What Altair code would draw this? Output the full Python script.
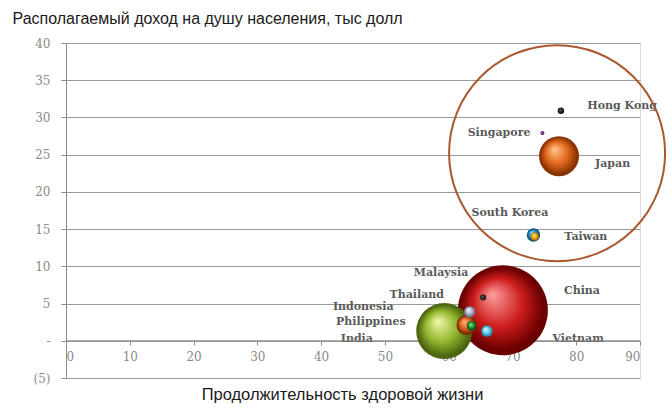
import math
import altair as alt
import pandas as pd

# ---- data ----
countries = ["China", "India", "Indonesia", "Thailand", "Philippines", "Vietnam",
             "Malaysia", "Japan", "South Korea", "Taiwan", "Hong Kong", "Singapore"]
healthy_life = [68.5, 59.3, 62.8, 63.3, 63.6, 66.0, 65.4, 77.3, 73.3, 73.5, 77.6, 74.7]
income_k = [4.1, 1.3, 2.1, 3.9, 2.0, 1.3, 5.8, 24.8, 14.2, 14.0, 30.9, 27.9]
bubble_value = [1350, 523, 67, 22, 15, 22, 6, 267, 30, 12, 7, 2.7]

label_names = ["Hong Kong", "Singapore", "Japan", "South Korea", "Taiwan", "Malaysia",
               "Thailand", "China", "Indonesia", "Philippines", "India", "Vietnam"]
label_x = [87.2, 67.9, 85.7, 69.6, 81.5, 58.8, 55.0, 80.9, 46.6, 47.8, 45.6, 80.3]
label_y = [31.6, 27.9, 23.7, 17.2, 13.9, 9.1, 6.2, 6.7, 4.5, 2.5, 0.2, 0.2]

ring_x = [77.0]
ring_y = [25.2]

x_ticks = list(range(0, 91, 10))
y_ticks = list(range(-5, 41, 5))

# sphere colours: light highlight, base, dark rim
sphere_colors = {
    "China": ("#ffa0a0", "#cc1c1c", "#6a0000"),
    "India": ("#f2f9b0", "#94b82e", "#4c6610"),
    "Indonesia": ("#ffb680", "#d95f1c", "#752805"),
    "Thailand": ("#ffffff", "#b4b4c8", "#6a6a84"),
    "Philippines": ("#90f090", "#1f9a35", "#0a4d16"),
    "Vietnam": ("#e8fcff", "#66cdea", "#2686a8"),
    "Malaysia": ("#6a7070", "#2a2e2e", "#101212"),
    "Japan": ("#ffc890", "#e2681c", "#883203"),
    "South Korea": ("#a6e8ff", "#1e8fc8", "#0b4870"),
    "Taiwan": ("#fff090", "#f0aa1a", "#a86a00"),
    "Hong Kong": ("#6a7070", "#262a2a", "#0e1010"),
    "Singapore": ("#c890dc", "#7b2d8e", "#4a1056"),
}

df = pd.DataFrame({"country": countries, "x": healthy_life, "y": income_k, "v": bubble_value})
labels_df = pd.DataFrame({"name": label_names, "x": label_x, "y": label_y})
ring_df = pd.DataFrame({"x": ring_x, "y": ring_y})
zero_df = pd.DataFrame({"y": [0]})

W, H = 574, 335
serif = "DejaVu Serif"
sans = "Liberation Sans"

xenc = alt.X(
    "x:Q",
    scale=alt.Scale(domain=[0, 90], nice=False, zero=False),
    axis=alt.Axis(
        values=x_ticks, grid=False, domain=False, offset=-37,
        tickSize=4, tickColor="#8c8c8c", labelFont=serif, labelFontSize=12,
        labelColor="#8a8a8a", labelPadding=6,
        title="Продолжительность здоровой жизни", titleFont=sans,
        titleFontSize=16.5, titleFontWeight="normal", titleColor="#1a1a1a",
        titleX=276, titleY=58, titleAlign="center", titleBaseline="alphabetic",
    ),
)
yenc = alt.Y(
    "y:Q",
    scale=alt.Scale(domain=[-5, 40], nice=False, zero=False),
    axis=alt.Axis(
        values=y_ticks, grid=True, gridColor="#999999", gridWidth=1,
        domainColor="#8c8c8c", tickColor="#8c8c8c", tickSize=5,
        labelFont=serif, labelFontSize=12, labelColor="#8a8a8a", labelPadding=11,
        labelExpr="datum.value == 0 ? '-\u00a0\u00a0' : (datum.value < 0 ? '(' + abs(datum.value) + ')' : datum.label)",
        title="Располагаемый доход на душу населения, тыс долл",
        titleFont=sans, titleFontSize=16, titleFontWeight="normal", titleColor="#1a1a1a",
        titleAngle=0, titleX=-54, titleY=-20, titleAlign="left", titleBaseline="alphabetic",
    ),
)
# Vega symbol radius = sqrt(size) / 2
size_enc = alt.Size("v:Q", scale=alt.Scale(domain=[0, 1350], range=[0, 4 * 45 ** 2]), legend=None)

labels = alt.Chart(labels_df).mark_text(
    font=serif, fontSize=11, fontWeight="bold", color="#5a5a5a", align="center", baseline="middle"
).encode(x=xenc, y=yenc, text="name:N")

zero_line = alt.Chart(zero_df).mark_rule(color="#8c8c8c", strokeWidth=1).encode(
    y=yenc, x=alt.value(0), x2=alt.value(W)
)

layers = [labels, zero_line]
for c in countries:
    light, base, dark = sphere_colors[c]
    grad = {
        "gradient": "radial",
        "x1": 0.38, "y1": 0.32, "r1": 0.0,
        "x2": 0.5, "y2": 0.5, "r2": 0.5,
        "stops": [
            {"offset": 0.0, "color": light},
            {"offset": 0.55, "color": base},
            {"offset": 0.92, "color": dark},
            {"offset": 1.0, "color": dark},
        ],
    }
    layers.append(
        alt.Chart(df).transform_filter(alt.datum.country == c)
        .mark_circle(fill=grad, opacity=1, strokeWidth=0)
        .encode(x=xenc, y=yenc, size=size_enc)
    )

ring = alt.Chart(ring_df).mark_point(
    shape="circle", filled=False, stroke="#a9582f", strokeWidth=2, opacity=1,
    size=4 * 108 ** 2,
).encode(x=xenc, y=yenc)
layers.append(ring)

chart = alt.layer(*layers).properties(
    width=W, height=H,
    autosize=alt.AutoSizeParams(type="none"),
    padding={"left": 66, "top": 43, "right": 32, "bottom": 32},
).configure_view(stroke=None).configure(background="white")

chart.save("out.html", embed_options={"renderer": "svg", "actions": False})
